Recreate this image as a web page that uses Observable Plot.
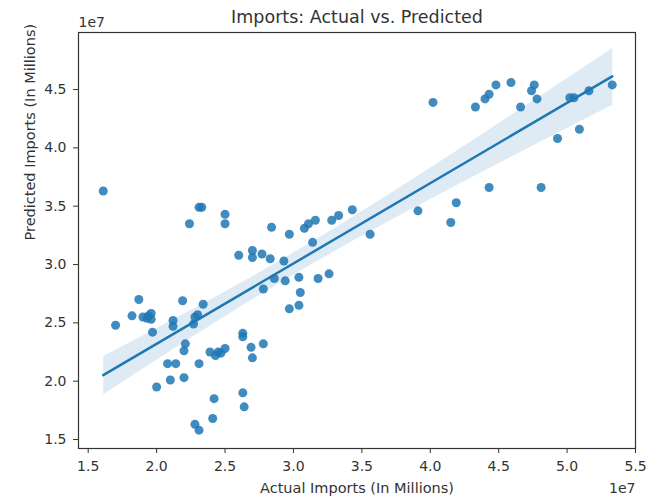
<!DOCTYPE html>
<html>
<head>
<meta charset="utf-8">
<script src="https://cdn.jsdelivr.net/npm/d3@7"></script>
<script src="https://cdn.jsdelivr.net/npm/@observablehq/plot@0.6"></script>
<style>
  body { margin: 0; background: #fff; }
</style>
</head>
<body>
<div id="chart"></div>
<script>
// Values in units of 1e7
const actual = [
  1.61, 1.70, 1.82, 1.87, 1.90, 1.94, 1.96, 1.97, 1.93, 1.96,
  2.00, 2.08, 2.10, 2.12, 2.12, 2.14, 2.19, 2.20, 2.21, 2.20,
  2.24, 2.27, 2.28, 2.30, 2.31, 2.33, 2.34, 2.31, 2.28, 2.31,
  2.41, 2.42, 2.39, 2.43, 2.45, 2.47, 2.50, 2.50, 2.50, 2.60,
  2.63, 2.63, 2.63, 2.64, 2.69, 2.70, 2.70, 2.70, 2.77, 2.78,
  2.78, 2.83, 2.84, 2.86, 2.93, 2.94, 2.97, 2.97, 3.04, 3.04,
  3.05, 3.08, 3.11, 3.14, 3.16, 3.18, 3.26, 3.28, 3.33, 3.43,
  3.56, 3.91, 4.02, 4.15, 4.19, 4.33, 4.40, 4.43, 4.43, 4.48,
  4.59, 4.66, 4.74, 4.76, 4.78, 4.81, 4.93, 5.02, 5.05, 5.09,
  5.16, 5.33
];
const predicted = [
  3.63, 2.48, 2.56, 2.70, 2.55, 2.56, 2.58, 2.42, 2.54, 2.53,
  1.95, 2.15, 2.01, 2.52, 2.47, 2.15, 2.69, 2.26, 2.32, 2.03,
  3.35, 2.49, 2.55, 2.57, 3.49, 3.49, 2.66, 2.15, 1.63, 1.58,
  1.68, 1.85, 2.25, 2.22, 2.25, 2.24, 2.28, 3.43, 3.35, 3.08,
  2.41, 2.38, 1.90, 1.78, 2.29, 2.20, 3.12, 3.06, 3.09, 2.32,
  2.79, 3.05, 3.32, 2.88, 3.03, 2.86, 3.26, 2.62, 2.89, 2.65,
  2.76, 3.31, 3.35, 3.19, 3.38, 2.88, 2.92, 3.38, 3.42, 3.47,
  3.26, 3.46, 4.39, 3.36, 3.53, 4.35, 4.42, 4.46, 3.66, 4.54,
  4.56, 4.35, 4.49, 4.54, 4.42, 3.66, 4.08, 4.43, 4.43, 4.16,
  4.49, 4.54
];
const xTicks = [1.5, 2.0, 2.5, 3.0, 3.5, 4.0, 4.5, 5.0, 5.5];
const yTicks = [1.5, 2.0, 2.5, 3.0, 3.5, 4.0, 4.5];
const title = "Imports: Actual vs. Predicted";
const xLabel = "Actual Imports (In Millions)";
const yLabel = "Predicted Imports (In Millions)";
const offsetText = "1e7";

const data = actual.map((a, i) => ({actual: a, predicted: predicted[i]}));
const blue = "#1f77b4";
const textColor = "#333";

const chart = Plot.plot({
  width: 661,
  height: 501,
  marginLeft: 78,
  marginRight: 26,
  marginTop: 32,
  marginBottom: 53,
  style: {fontFamily: "'DejaVu Sans', sans-serif", fontSize: "14px", color: textColor, background: "#fff"},
  x: {domain: [1.429, 5.50], ticks: xTicks, tickFormat: d3.format(".1f")},
  y: {domain: [1.423, 4.989], ticks: yTicks, tickFormat: d3.format(".1f")},
  marks: [
    Plot.linearRegressionY(data, {
      x: "actual", y: "predicted",
      stroke: blue, strokeWidth: 2.5,
      fill: blue, fillOpacity: 0.15, ci: 0.95
    }),
    Plot.dot(data, {x: "actual", y: "predicted", r: 4.5, fill: blue, fillOpacity: 0.85, stroke: "none"}),
    Plot.frame({stroke: textColor, strokeWidth: 1.2}),
    Plot.axisX({ticks: xTicks, tickFormat: d3.format(".1f"), tickSize: 5, tickPadding: 8, label: null, fontSize: 14, fill: textColor}),
    Plot.axisY({ticks: yTicks, tickFormat: d3.format(".1f"), tickSize: 5, tickPadding: 7, label: null, fontSize: 14, fill: textColor}),
    Plot.text([title], {frameAnchor: "top", dy: -15, fontSize: 17.5, fill: textColor, lineAnchor: "middle"}),
    Plot.text([offsetText], {frameAnchor: "top-left", dy: -10, textAnchor: "start", lineAnchor: "middle", fontSize: 14, fill: textColor}),
    Plot.text([offsetText], {frameAnchor: "bottom-right", dy: 40, textAnchor: "end", lineAnchor: "middle", fontSize: 14, fill: textColor}),
    Plot.text([xLabel], {frameAnchor: "bottom", dy: 40, lineAnchor: "middle", fontSize: 14.5, fill: textColor}),
    Plot.text([yLabel], {frameAnchor: "left", dx: -48, rotate: -90, lineAnchor: "middle", fontSize: 14.5, fill: textColor})
  ]
});
document.getElementById("chart").appendChild(chart);
</script>
</body>
</html>
